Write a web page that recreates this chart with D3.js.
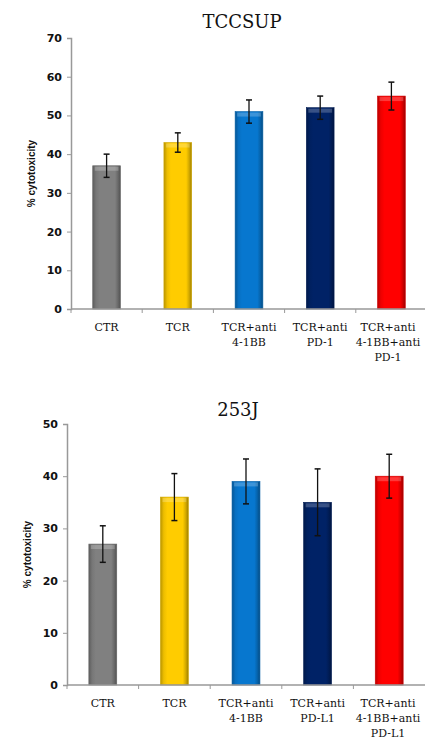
<!DOCTYPE html>
<html><head><meta charset="utf-8">
<script src="https://cdn.jsdelivr.net/npm/d3@7/dist/d3.min.js"></script>
<style>body{margin:0;background:#fff}</style>
</head><body>
<svg id="c" width="425" height="739"></svg>
<script>
const categoriesTop = ["CTR", "TCR", "TCR+anti\n4-1BB", "TCR+anti\nPD-1", "TCR+anti\n4-1BB+anti\nPD-1"];
const valuesTop = [37, 43, 51, 52, 55];
const errorsTop = [3, 2.5, 3, 3, 3.6];
const ticksTop = [0, 10, 20, 30, 40, 50, 60, 70];

const categoriesBottom = ["CTR", "TCR", "TCR+anti\n4-1BB", "TCR+anti\nPD-L1", "TCR+anti\n4-1BB+anti\nPD-L1"];
const valuesBottom = [27, 36, 39, 35, 40];
const errorsBottom = [3.5, 4.5, 4.3, 6.4, 4.2];
const ticksBottom = [0, 10, 20, 30, 40, 50];

const barColors = ["#808080", "#FFCC00", "#0777CF", "#002266", "#FF0000"];
const svg = d3.select("#c");
const defs = svg.append("defs");
barColors.forEach((c, i) => {
  const g = defs.append("linearGradient").attr("id", "g" + i).attr("x1", "0").attr("x2", "1").attr("y1", "0").attr("y2", "0");
  const base = d3.color(c);
  g.append("stop").attr("offset", "0").attr("stop-color", base.darker(0.9));
  g.append("stop").attr("offset", "0.12").attr("stop-color", base.darker(0.2));
  g.append("stop").attr("offset", "0.25").attr("stop-color", c);
  g.append("stop").attr("offset", "0.8").attr("stop-color", c);
  g.append("stop").attr("offset", "0.9").attr("stop-color", base.darker(0.5));
  g.append("stop").attr("offset", "1").attr("stop-color", base.darker(1.3));
});

function drawChart(o) {
  const g = svg.append("g");
  const x = d3.scaleBand().domain(o.categories).range([o.left, o.right]).paddingInner(0.61).paddingOuter(0.305);
  const y = d3.scaleLinear().domain([0, o.max]).range([o.bottom, o.top]);
  const bw = x.bandwidth();

  g.append("text").attr("x", o.titleX).attr("y", o.titleY).attr("text-anchor", "middle")
    .attr("font-family", "'DejaVu Serif', serif").attr("font-size", 18).attr("fill", "#111").text(o.title);

  const ya = g.append("g").attr("transform", `translate(${o.left},0)`)
    .call(d3.axisLeft(y).tickValues(o.ticks).tickSize(4).tickPadding(5));
  ya.select(".domain").attr("stroke", "#999").attr("stroke-width", 1.5);
  ya.selectAll(".tick line").attr("stroke", "#999");
  ya.selectAll(".tick text").attr("font-family", "'DejaVu Sans', Arial, sans-serif").attr("font-weight", "bold")
    .attr("font-size", 11).attr("fill", "#111");

  g.append("text").attr("transform", `translate(${o.left - 36},${(o.top + o.bottom) / 2}) rotate(-90)`)
    .attr("text-anchor", "middle").attr("font-family", "'Liberation Sans', Arial, sans-serif").attr("font-weight", "bold")
    .attr("font-size", 10).attr("fill", "#111").text("% cytotoxicity");

  o.categories.forEach((c, i) => {
    const x0 = x(c), yt = y(o.values[i]), h = y(0) - yt;
    g.append("rect").attr("x", x0).attr("y", yt).attr("width", bw).attr("height", h).attr("fill", `url(#g${i})`);
    g.append("rect").attr("x", x0 + 2).attr("y", yt + 1).attr("width", bw - 4).attr("height", 4)
      .attr("fill", "#fff").attr("opacity", 0.22);
    g.append("rect").attr("x", x0).attr("y", yt).attr("width", bw).attr("height", h)
      .attr("fill", "none").attr("stroke", d3.color(barColors[i]).darker(0.6)).attr("stroke-width", 0.6);
    const cx = x0 + bw / 2, e = o.errors[i];
    const y1 = y(o.values[i] + e), y2 = y(o.values[i] - e);
    g.append("line").attr("x1", cx).attr("x2", cx).attr("y1", y1).attr("y2", y2).attr("stroke", "#111").attr("stroke-width", 1.3);
    [y1, y2].forEach(yy => g.append("line").attr("x1", cx - 3).attr("x2", cx + 3).attr("y1", yy).attr("y2", yy)
      .attr("stroke", "#111").attr("stroke-width", 1.5));
  });

  g.append("line").attr("x1", o.left).attr("x2", o.right).attr("y1", o.bottom).attr("y2", o.bottom)
    .attr("stroke", "#999").attr("stroke-width", 1.5);
  const step = x.step();
  o.categories.forEach(c => {
    const bx = x(c) - step * x.paddingInner() / 2;
    g.append("line").attr("x1", bx).attr("x2", bx).attr("y1", o.bottom).attr("y2", o.bottom + 4).attr("stroke", "#999");
  });

  o.categories.forEach(c => {
    const lines = c.split("\n");
    const t = g.append("text").attr("text-anchor", "middle").attr("font-family", "'DejaVu Serif', serif")
      .attr("font-size", 11).attr("fill", "#111");
    lines.forEach((l, k) => t.append("tspan").attr("x", Math.min(x(c) + bw / 2, 388)).attr("y", o.bottom + 22 + k * 15).text(l));
  });
}

drawChart({categories: categoriesTop, values: valuesTop, errors: errorsTop, ticks: ticksTop, max: 70,
  left: 71, right: 427, top: 38, bottom: 309, title: "TCCSUP", titleX: 242, titleY: 28});
drawChart({categories: categoriesBottom, values: valuesBottom, errors: errorsBottom, ticks: ticksBottom, max: 50,
  left: 67, right: 425, top: 424, bottom: 685, title: "253J", titleX: 238, titleY: 416});
</script>
</body></html>
